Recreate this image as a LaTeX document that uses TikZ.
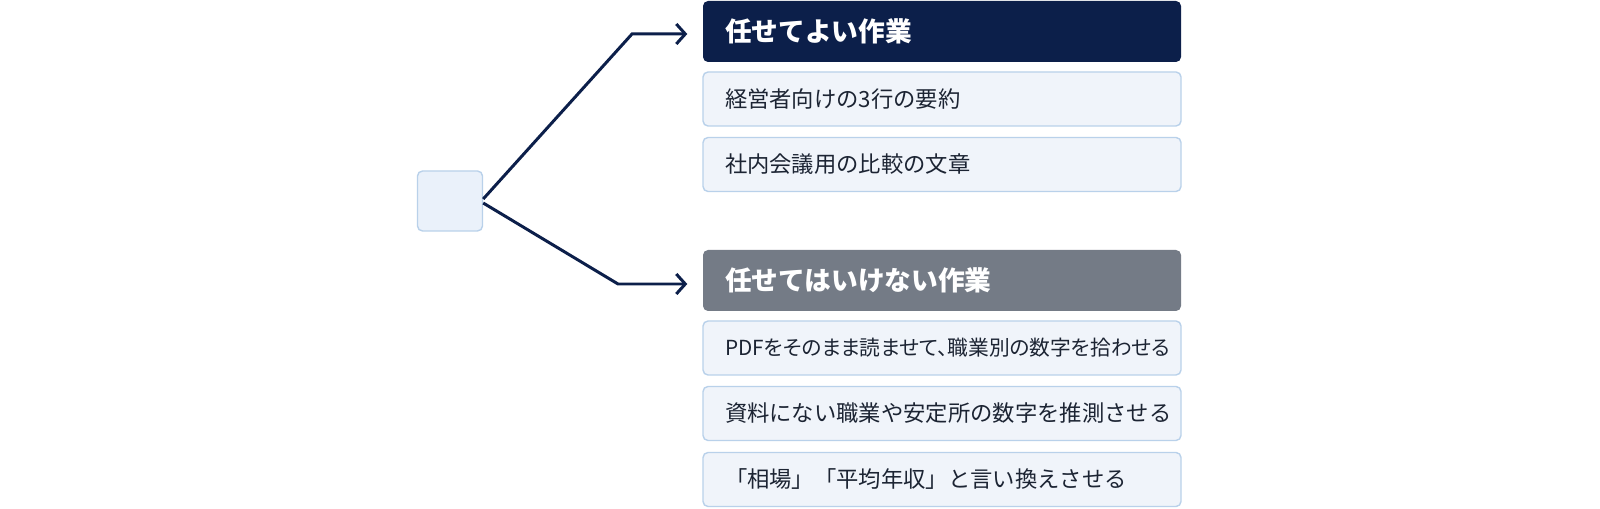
\documentclass[tikz,border=0pt]{standalone}
\usepackage{fontspec}
\setmainfont{Noto Sans CJK JP}
\newfontfamily\tightjp[RawFeature=+palt]{Noto Sans CJK JP}
\usetikzlibrary{positioning,arrows.meta}

\definecolor{navy}{HTML}{0C1F4A}
\definecolor{slate}{HTML}{747B86}
\definecolor{paleblue}{HTML}{F0F4FA}
\definecolor{iceblue}{HTML}{EAF1FA}
\definecolor{edgeblue}{HTML}{B9D1EA}
\definecolor{inkdark}{HTML}{1C2433}

\tikzset{
  card/.style={rectangle,rounded corners=0.05cm,minimum height=0.54cm,
    text width=4.34cm,inner xsep=0.22cm,align=left,
    fill=paleblue,draw=edgeblue,line width=0.4pt,
    text=inkdark,font=\fontsize{6.35}{7}\selectfont},
  head/.style={rectangle,rounded corners=0.05cm,minimum height=0.61cm,
    text width=4.34cm,inner xsep=0.22cm,align=left,draw=none,
    text=white,font=\fontsize{7.6}{9}\selectfont\bfseries},
  branch/.style={draw=navy,line width=0.85pt,-{Straight Barb[length=0.09cm,width=0.2cm]}}
}

\begin{document}
\begin{tikzpicture}
  \useasboundingbox (0,0) rectangle (16,-5.09);

  \node[rectangle,rounded corners=0.05cm,fill=iceblue,draw=edgeblue,
    line width=0.4pt,minimum width=0.65cm,minimum height=0.6cm] (src) at (4.5,-2.01) {};

  \node[head,fill=navy] (okhead) at (9.42,-0.315) {任せてよい作業};
  \node[head,fill=slate] (nghead) at (9.42,-2.805) {任せてはいけない作業};

  \foreach \n/\y/\t in {oka/0.99/経営者向けの3行の要約, okb/1.645/社内会議用の比較の文章,
    nga/3.48/{\tightjp\fontsize{5.9}{7}\selectfont PDFをそのまま読ませて、職業別の数字を拾わせる},
    ngb/4.135/資料にない職業や安定所の数字を推測させる,
    ngc/4.795/「相場」「平均年収」と言い換えさせる}
    \node[card] (\n) at (9.42,-\y) {\mbox{\t}};

  \coordinate (okbend) at (6.32,-0.34);
  \coordinate (ngbend) at (6.18,-2.84);
  \draw[branch,shorten >=0.15cm] ([yshift=0.02cm]src.east) -- (okbend) -- (okbend -| okhead.west);
  \draw[branch,shorten >=0.15cm] ([yshift=-0.02cm]src.east) -- (ngbend) -- (ngbend -| nghead.west);

\end{tikzpicture}
\end{document}
